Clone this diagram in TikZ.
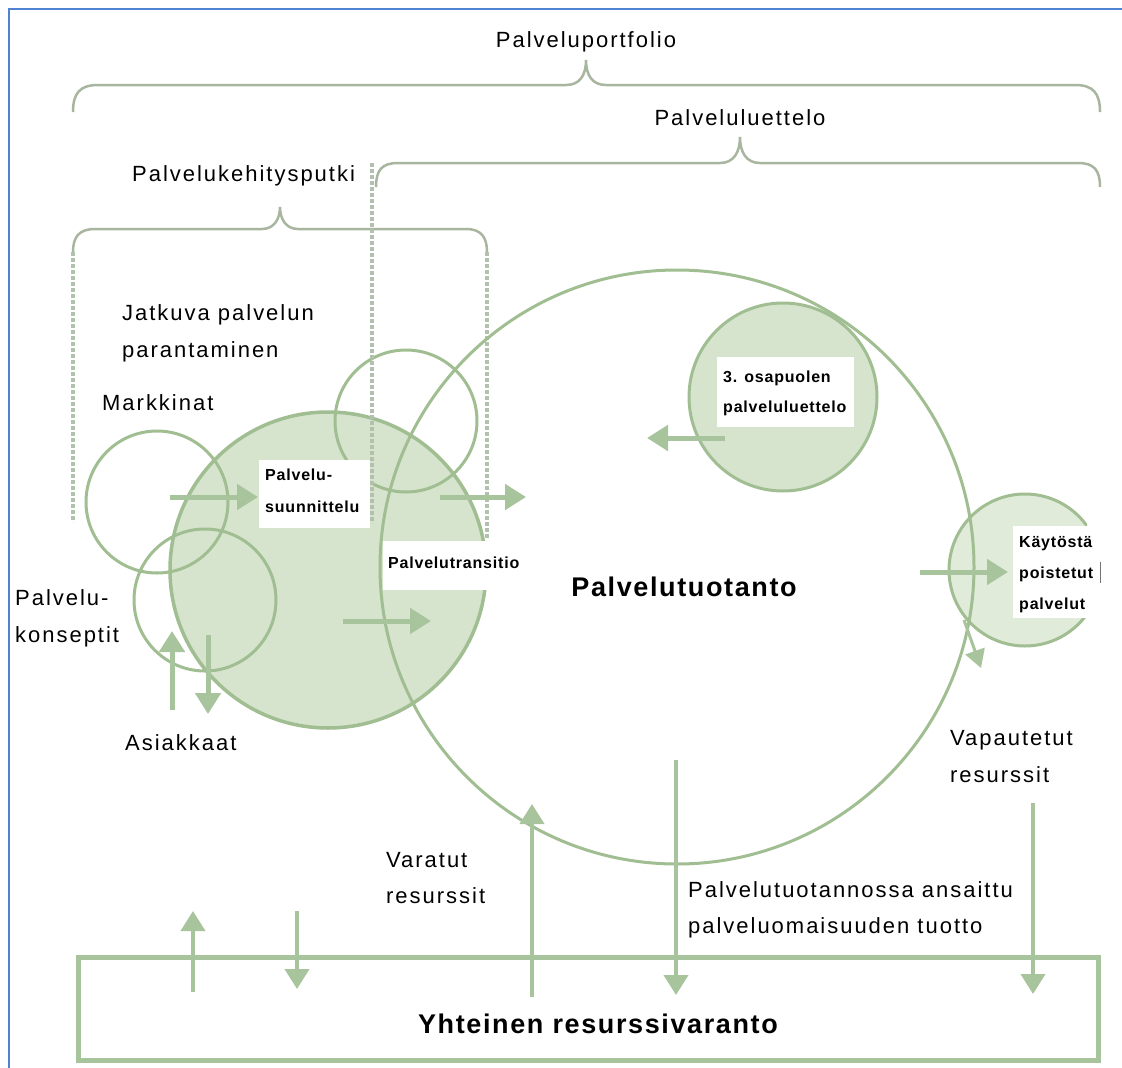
\documentclass[tikz,border=0pt]{standalone}
\usepackage{fontspec}
\setmainfont{Liberation Sans}
\newfontfamily\labfont[LetterSpace=9]{Liberation Sans}
\newfontfamily\boxfont[LetterSpace=5]{Liberation Sans}
\newfontfamily\headfont[LetterSpace=6]{Liberation Sans}
\usetikzlibrary{arrows.meta}

\definecolor{ringgreen}{RGB}{160,190,145}
\definecolor{fillgreen}{RGB}{214,228,206}
\definecolor{palegreen}{RGB}{224,235,218}
\definecolor{arrowgreen}{RGB}{168,196,156}
\definecolor{bracegray}{RGB}{168,182,160}
\definecolor{guidegray}{RGB}{178,192,174}
\definecolor{frameblue}{RGB}{80,130,210}

% two and three stacked lines, baseline of the node = baseline of the first line
\newcommand\twoln[3]{\vtop{\baselineskip=#1pt\lineskiplimit=-1000pt\hbox{#2}\hbox{#3}}}
\newcommand\threeln[4]{\vtop{\baselineskip=#1pt\lineskiplimit=-1000pt\hbox{#2}\hbox{#3}\hbox{#4}}}

\tikzset{
  lab/.style={font=\labfont\fontsize{22}{26}\selectfont, inner sep=0pt, anchor=base west},
  boxlab/.style={font=\boxfont\bfseries\fontsize{16}{19}\selectfont, inner sep=0pt, anchor=base west},
  head/.style={font=\headfont\bfseries\fontsize{27}{32}\selectfont, inner sep=0pt, anchor=base},
  ring/.style={draw=ringgreen, line width=3pt},
  flow/.style={draw=arrowgreen, line width=5pt, -{Triangle[width=25pt,length=21pt]}},
  thinflow/.style={draw=arrowgreen, line width=4pt, -{Triangle[width=24pt,length=20pt]}},
  brace/.style={draw=bracegray, line width=2.5pt},
  guide/.style={draw=guidegray, line width=4.5pt, dash pattern=on 3.5pt off 2.5pt},
  frame/.style={draw=frameblue, line width=2pt},
  pool/.style={draw=arrowgreen, line width=5pt},
}

\begin{document}
\begin{tikzpicture}[x=1pt,y=-1pt]
\useasboundingbox (0,0) rectangle (1122,1068);
\fill[white] (0,0) rectangle (1122,1068);

% outer frame
\draw[frame] (9,1068) -- (9,9) -- (1122,9);

% braces
\draw[brace] (73,112) .. controls (73,93) and (80,85) .. (98,85) -- (566,85)
  .. controls (580,85) and (586,75) .. (586,60)
  .. controls (586,75) and (592,85) .. (606,85) -- (1075,85)
  .. controls (1093,85) and (1100,93) .. (1100,112);
\draw[brace] (376,187) .. controls (376,170) and (382,163) .. (398,163) -- (720,163)
  .. controls (734,163) and (740,152) .. (740,137)
  .. controls (740,152) and (746,163) .. (760,163) -- (1078,163)
  .. controls (1094,163) and (1100,170) .. (1100,187);
\draw[brace] (73,252) .. controls (73,237) and (79,229) .. (95,229) -- (262,229)
  .. controls (274,229) and (280,219) .. (280,207)
  .. controls (280,219) and (286,229) .. (298,229) -- (466,229)
  .. controls (481,229) and (487,237) .. (487,252);

% design / improvement circles
\draw[ring, fill=fillgreen, line width=3.5pt] (328,570) circle[radius=158];
\draw[ring] (157,502) circle[radius=71];
\draw[ring] (205,600) circle[radius=71];
\draw[ring] (406,421) circle[radius=71];

% pipeline guide lines
\coordinate (gLa) at (73,252);  \coordinate (gLb) at (73,522);
\coordinate (gMa) at (372,163); \coordinate (gMb) at (372,523);
\coordinate (gRa) at (487,252); \coordinate (gRb) at (487,538);
\draw[guide] (gLa) -- (gLb);
\draw[guide] (gMa) -- (gMb);
\draw[guide] (gRa) -- (gRb);

% third party catalogue and retired services
\draw[ring, fill=fillgreen] (783,397) circle[radius=94];
\begin{scope}
  \clip (900,400) rectangle (1087,700);
  \draw[ring, fill=palegreen] (1025,570) circle[radius=76];
\end{scope}

% white label panels
\fill[white] (259,460) rectangle (370,528);
\fill[white] (383,541) rectangle (535,590);
\fill[white] (717,357) rectangle (854,427);
\fill[white] (1013,526) rectangle (1100,618);
\draw[black!55, line width=0.8pt] (1100,562) -- (1100,583);

% service operation circle
\draw[ring] (677,567) circle[radius=297];

% resource pool
\draw[pool] (78,957) rectangle (1098,1060);

% texts
\node[lab, anchor=base] (portfolio) at (586,47) {Palveluportfolio};
\node[lab, anchor=base] (catalogue) at (740,125) {Palveluluettelo};
\node[lab] (pipeline) at (132,181) {Palvelukehitysputki};
\node[lab] (improve) at (122,320) {\twoln{37}{Jatkuva palvelun}{parantaminen}};
\node[lab] (markets) at (102,410) {Markkinat};
\node[lab] (concepts) at (15,605) {\twoln{37}{Palvelu-}{konseptit}};
\node[lab] (customers) at (125,750) {Asiakkaat};
\node[lab] (released) at (950,745) {\twoln{37}{Vapautetut}{resurssit}};
\node[lab] (reserved) at (386,867) {\twoln{36}{Varatut}{resurssit}};
\node[lab] (earned) at (688,897) {\twoln{36}{Palvelutuotannossa ansaittu}{palveluomaisuuden tuotto}};
\node[head] (operation) at (684,596) {Palvelutuotanto};
\node[head] (poolname) at (598,1033) {Yhteinen resurssivaranto};

\node[boxlab] (design) at (265,480) {\twoln{32}{Palvelu-}{suunnittelu}};
\node[boxlab] (transition) at (388,568) {Palvelutransitio};
\node[boxlab] (thirdparty) at (723,382) {\twoln{30}{3. osapuolen}{palveluluettelo}};
\node[boxlab] (retired) at (1019,547) {\threeln{31}{Käytöstä}{poistetut}{palvelut}};

% flows
\coordinate (f1s) at (170,497); \coordinate (f1e) at (258,497);
\coordinate (f2s) at (440,497); \coordinate (f2e) at (526,497);
\coordinate (f3s) at (343,621); \coordinate (f3e) at (431,621);
\coordinate (f4s) at (172,710); \coordinate (f4e) at (172,631);
\coordinate (f5s) at (208,635); \coordinate (f5e) at (208,714);
\coordinate (f6s) at (725,438); \coordinate (f6e) at (647,438);
\coordinate (f7s) at (920,572); \coordinate (f7e) at (1008,572);
\coordinate (f8s) at (964,620); \coordinate (f8e) at (981,668);
\coordinate (f9s) at (532,997); \coordinate (f9e) at (532,804);
\coordinate (f10s) at (676,760); \coordinate (f10e) at (676,995);
\coordinate (f11s) at (1033,803); \coordinate (f11e) at (1033,994);
\coordinate (f12s) at (193,992); \coordinate (f12e) at (193,911);
\coordinate (f13s) at (297,911); \coordinate (f13e) at (297,989);

\draw[flow] (f1s) -- (f1e);
\draw[flow] (f2s) -- (f2e);
\draw[flow] (f3s) -- (f3e);
\draw[flow] (f4s) -- (f4e);
\draw[flow] (f5s) -- (f5e);
\draw[flow] (f6s) -- (f6e);
\draw[flow] (f7s) -- (f7e);
\draw[draw=arrowgreen, line width=3pt, -{Triangle[width=20pt,length=18pt]}] (f8s) -- (f8e);
\draw[thinflow] (f9s) -- (f9e);
\draw[thinflow] (f10s) -- (f10e);
\draw[thinflow] (f11s) -- (f11e);
\draw[thinflow] (f12s) -- (f12e);
\draw[thinflow] (f13s) -- (f13e);
\end{tikzpicture}
\end{document}
